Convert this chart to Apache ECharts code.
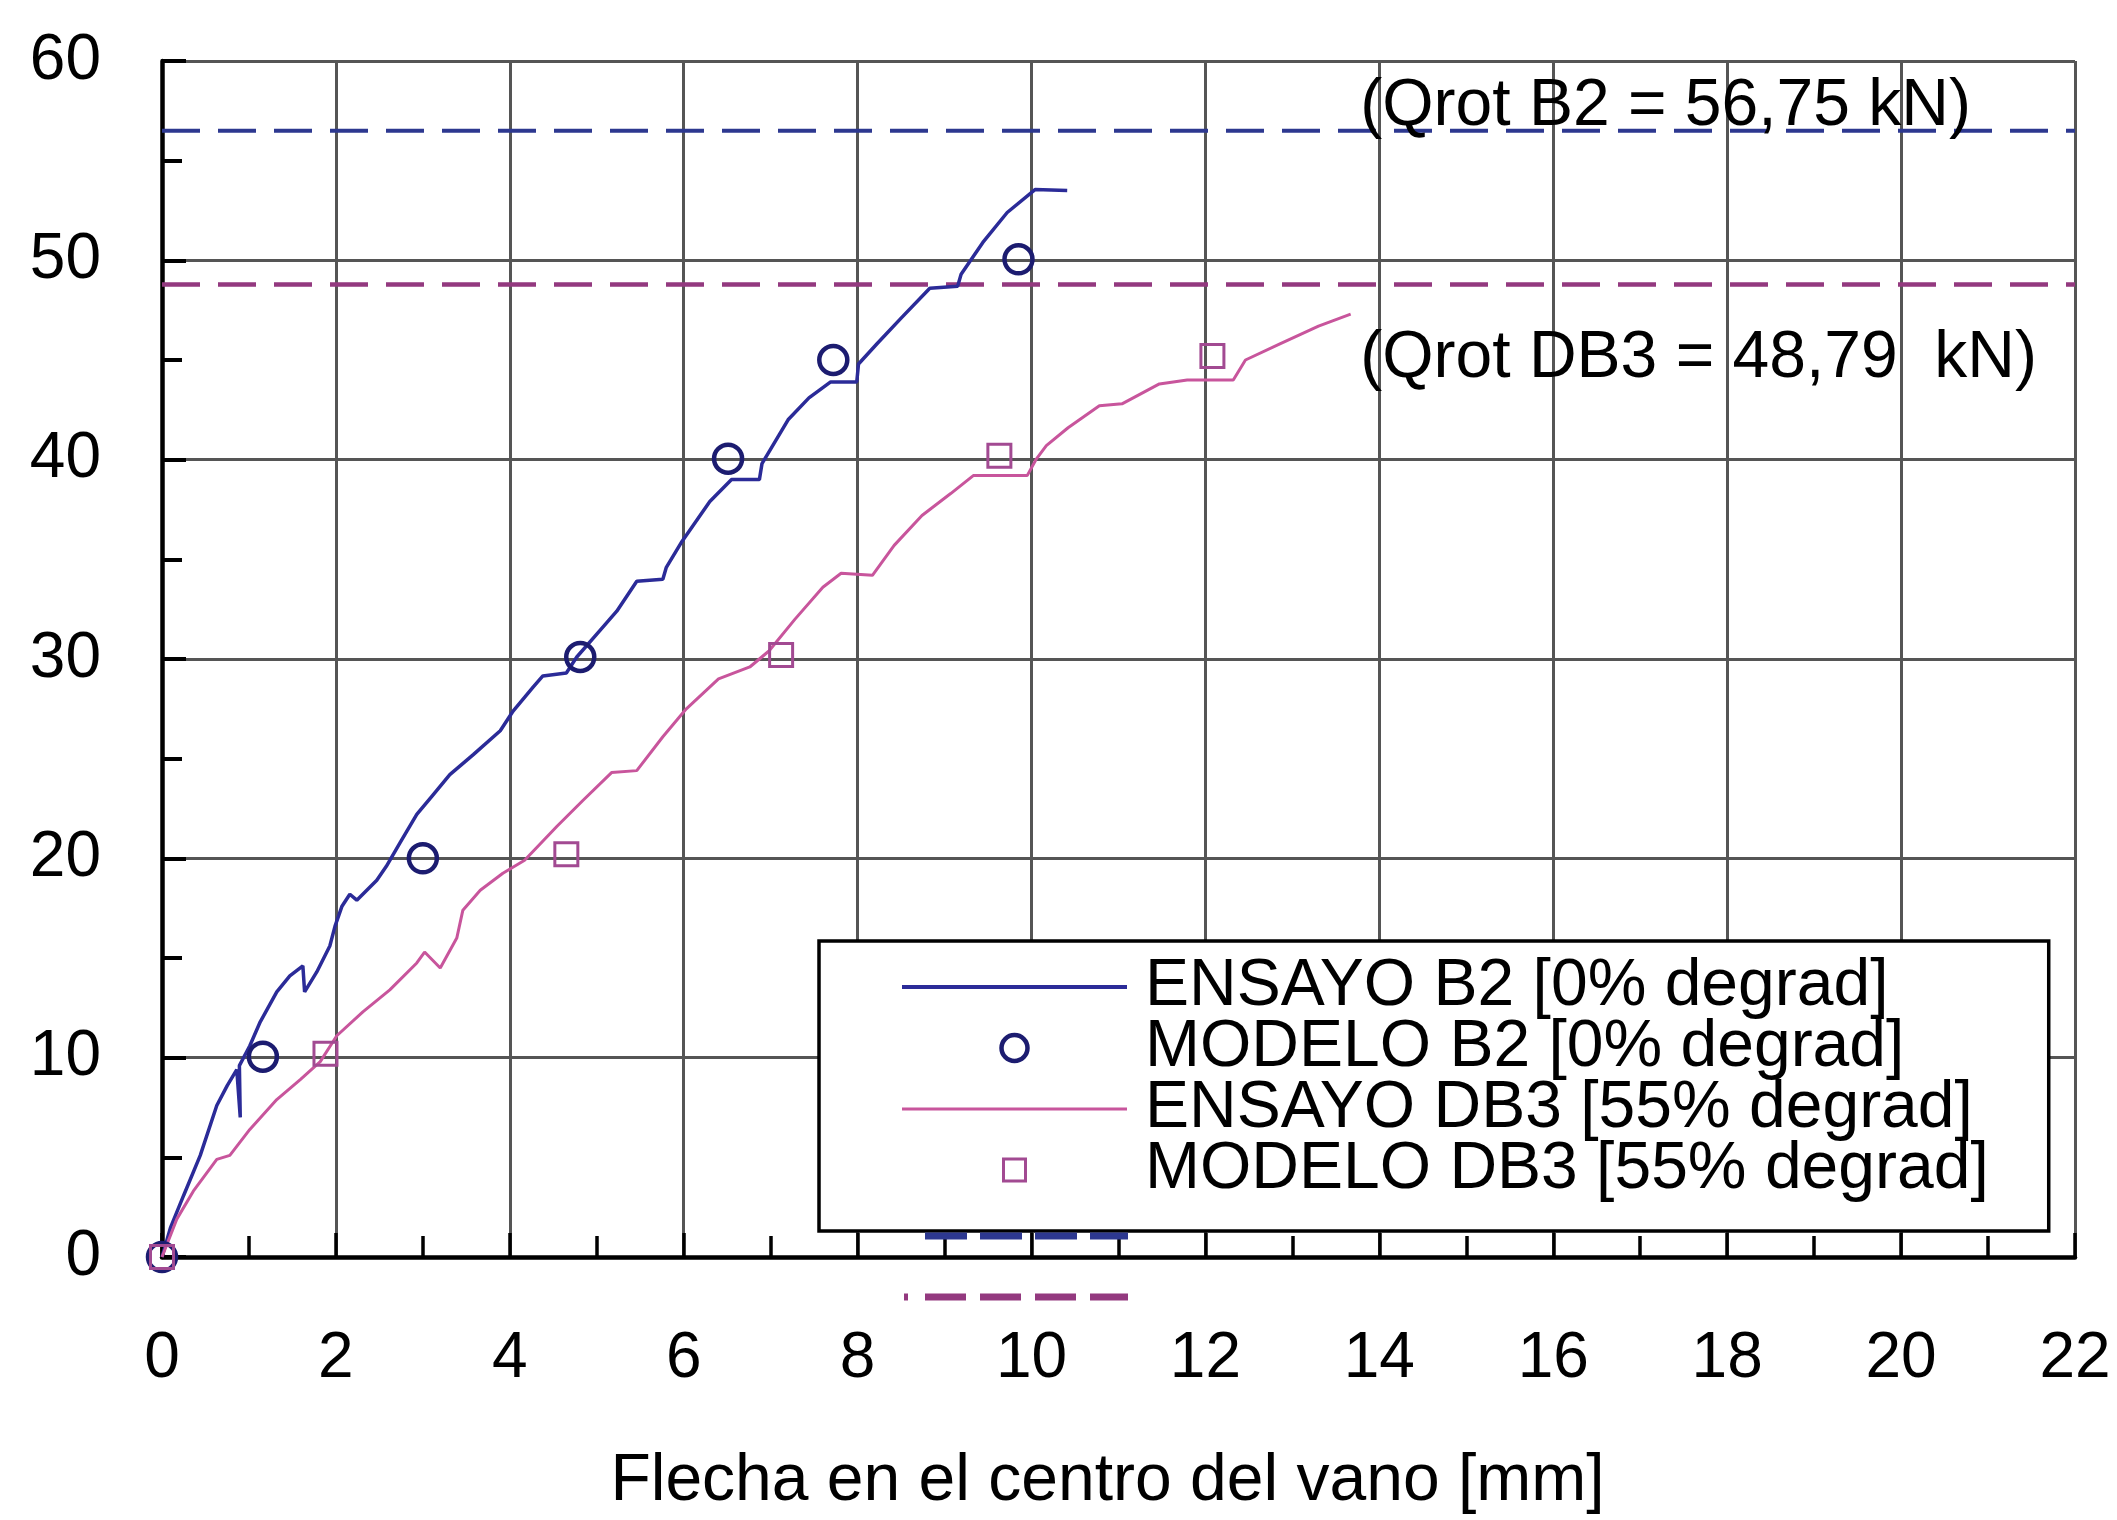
<!DOCTYPE html>
<html>
<head>
<meta charset="utf-8">
<script src="https://cdn.jsdelivr.net/npm/echarts@6/dist/echarts.min.js"></script>
<style>
html,body{margin:0;padding:0;background:#fff;}
#chart{width:2117px;height:1520px;}
</style>
</head>
<body>
<div id="chart"></div>
<script>
// ---- data ----
const seriesNames = ['ENSAYO B2 [0% degrad]', 'MODELO B2 [0% degrad]', 'ENSAYO DB3 [55% degrad]', 'MODELO DB3 [55% degrad]'];

const ensayoB2 = [
  [0,0],[0.1,1.5],[0.25,3.1],[0.44,5.1],[0.63,7.6],[0.75,8.6],[0.86,9.4],[0.9,7.0],[0.89,9.6],
  [1.01,10.6],[1.13,11.8],[1.32,13.3],[1.47,14.1],[1.62,14.6],[1.64,13.3],[1.78,14.3],[1.93,15.6],
  [1.99,16.6],[2.07,17.6],[2.16,18.2],[2.24,17.9],[2.47,18.9],[2.58,19.6],[2.74,20.8],[2.93,22.2],
  [3.12,23.2],[3.31,24.2],[3.58,25.2],[3.89,26.4],[4.04,27.4],[4.27,28.6],[4.38,29.15],[4.65,29.3],
  [4.77,30.1],[5.03,31.4],[5.23,32.4],[5.46,33.9],[5.76,34.0],[5.80,34.6],[5.98,35.9],[6.30,37.9],
  [6.55,39.0],[6.87,39.0],[6.90,39.8],[7.20,42.0],[7.44,43.1],[7.69,43.9],[7.99,43.9],[8.01,44.8],
  [8.22,45.8],[8.50,47.1],[8.83,48.6],[9.15,48.7],[9.19,49.3],[9.44,50.9],[9.72,52.4],[10.04,53.55],
  [10.41,53.5]
];
const modeloB2 = [[0,0],[1.16,10.05],[3.0,20.0],[4.81,30.1],[6.51,40.05],[7.72,45.0],[9.85,50.05]];

const ensayoDB3 = [
  [0,0],[0.17,1.9],[0.36,3.3],[0.63,4.9],[0.78,5.1],[1.01,6.4],[1.32,7.9],[1.59,8.9],[1.82,9.8],
  [2.01,11.1],[2.31,12.3],[2.62,13.4],[2.93,14.75],[3.02,15.3],[3.2,14.5],[3.39,16.0],[3.46,17.4],
  [3.66,18.4],[3.92,19.25],[4.17,19.9],[4.54,21.6],[4.84,22.9],[5.17,24.3],[5.46,24.4],[5.76,26.1],
  [6.03,27.5],[6.4,29.0],[6.76,29.6],[6.98,30.4],[7.28,32.0],[7.6,33.6],[7.81,34.3],[8.17,34.2],
  [8.42,35.7],[8.74,37.2],[9.07,38.3],[9.33,39.2],[9.95,39.2],[10.05,40.0],[10.17,40.7],[10.42,41.6],
  [10.78,42.7],[11.04,42.8],[11.47,43.8],[11.79,44.0],[12.32,44.0],[12.46,45.0],[12.85,45.8],
  [13.30,46.7],[13.67,47.3]
];
const modeloDB3 = [[0,0],[1.88,10.2],[4.65,20.2],[7.12,30.2],[9.63,40.2],[12.08,45.2]];

// dashed reference lines (positions as drawn in the picture)
const qrotB2 = 56.5;
const qrotDB3 = 48.79;
const qrotLabels = ['(Qrot B2 = 56,75 kN)', '(Qrot DB3 = 48,79  kN)'];
const qrotLabelPos = [[13.78, 57.7], [13.78, 45.07]];

const xMin = 0, xMax = 22, xInterval = 2;
const yMin = 0, yMax = 60, yInterval = 10;
const xTitle = 'Flecha en el centro del vano [mm]';

// ---- chart ----
const FONT = '"Liberation Sans", Arial, sans-serif';
const blue = '#2b2b98', blueDash = '#2d3890', circleCol = '#1c1c70';
const pink = '#c8559c', pinkDash = '#93397f', squareCol = '#a24a92';

const chart = echarts.init(document.getElementById('chart'), null, {renderer: 'canvas'});

const option = {
  animation: false,
  backgroundColor: '#fff',
  textStyle: {fontFamily: FONT},
  grid: {left: 162, right: 42, top: 61, bottom: 258, containLabel: false},
  xAxis: {
    type: 'value', min: xMin, max: xMax, interval: xInterval,
    name: xTitle, nameLocation: 'middle', nameGap: 192,
    nameTextStyle: {fontSize: 66, color: '#000', fontFamily: FONT, padding: [0, 22, 0, 0]},
    axisLine: {show: true, lineStyle: {color: '#000', width: 4.5}},
    axisTick: {show: true, inside: true, length: 24, lineStyle: {color: '#000', width: 3.5}},
    minorTick: {show: true, splitNumber: 2, length: 21, lineStyle: {color: '#000', width: 3.5}},
    axisLabel: {fontSize: 64, lineHeight: 64, color: '#000', margin: 70, fontFamily: FONT},
    splitLine: {show: true, lineStyle: {color: '#555', width: 3}}
  },
  yAxis: {
    type: 'value', min: yMin, max: yMax, interval: yInterval,
    axisLine: {show: true, lineStyle: {color: '#000', width: 4.5}},
    axisTick: {show: true, inside: true, length: 24, lineStyle: {color: '#000', width: 4}},
    minorTick: {show: true, splitNumber: 2, length: 20, lineStyle: {color: '#000', width: 4}},
    axisLabel: {fontSize: 64, color: '#000', margin: 61, fontFamily: FONT},
    splitLine: {show: true, lineStyle: {color: '#555', width: 3}}
  },
  legend: {
    show: true, orient: 'vertical', left: 819, top: 941,
    padding: [13, 60, 28, 83],
    itemWidth: 225, itemHeight: 26, itemGap: -5,
    backgroundColor: '#fff', borderColor: '#000', borderWidth: 3.5,
    selectedMode: false, symbolKeepAspect: true,
    textStyle: {fontSize: 66, color: '#000', fontFamily: FONT, padding: [0, 0, 0, 13]},
    data: [
      {name: seriesNames[0], icon: 'path://M0,0L225,0L225,4L0,4Z', itemStyle: {color: blue, borderWidth: 0}},
      {name: seriesNames[1], icon: 'circle', itemStyle: {color: 'rgba(255,255,255,0)', borderColor: circleCol, borderWidth: 4.5}},
      {name: seriesNames[2], icon: 'path://M0,0L225,0L225,3L0,3Z', itemStyle: {color: pink, borderWidth: 0}},
      {name: seriesNames[3], icon: 'path://M0,0M26,26M2,2L24,2L24,24L2,24Z',
        itemStyle: {color: 'rgba(255,255,255,0)', borderColor: squareCol, borderWidth: 3}}
    ]
  },
  graphic: [
    {type: 'line', z: 200, shape: {x1: 925, y1: 1236, x2: 1128, y2: 1236},
      style: {stroke: blueDash, lineWidth: 7, lineDash: [42, 13]}},
    {type: 'line', z: 200, shape: {x1: 925, y1: 1297, x2: 1128, y2: 1297},
      style: {stroke: pinkDash, lineWidth: 7, lineDash: [41, 14]}},
    {type: 'line', z: 200, shape: {x1: 904, y1: 1297, x2: 908, y2: 1297},
      style: {stroke: pinkDash, lineWidth: 7}}
  ],
  series: [
    {
      name: 'QrotB2', type: 'line', silent: true, symbol: 'none', z: 3,
      data: [[xMin, qrotB2], [xMax, qrotB2]],
      lineStyle: {color: blueDash, width: 4, type: [38, 18]}
    },
    {
      name: 'QrotDB3', type: 'line', silent: true, symbol: 'none', z: 3,
      data: [[xMin, qrotDB3], [xMax, qrotDB3]],
      lineStyle: {color: pinkDash, width: 4.5, type: [38, 18]}
    },
    {
      name: 'labels', type: 'scatter', silent: true, symbolSize: 0, z: 4,
      data: qrotLabelPos.map((p, i) => ({value: p, label: {formatter: qrotLabels[i]}})),
      label: {show: true, position: 'right', distance: 0, fontSize: 66, color: '#000', opacity: 1, fontFamily: FONT},
      emphasis: {disabled: true}
    },
    {
      name: seriesNames[0], type: 'line', symbol: 'none', z: 5,
      data: ensayoB2,
      lineStyle: {color: blue, width: 3.5}, itemStyle: {color: blue}
    },
    {
      name: seriesNames[2], type: 'line', symbol: 'none', z: 5,
      data: ensayoDB3,
      lineStyle: {color: pink, width: 3}, itemStyle: {color: pink}
    },
    {
      name: seriesNames[1], type: 'scatter', symbol: 'circle', symbolSize: 28, z: 6,
      data: modeloB2,
      itemStyle: {color: 'rgba(255,255,255,0)', borderColor: circleCol, borderWidth: 4.5, opacity: 1}
    },
    {
      name: seriesNames[3], type: 'scatter', symbol: 'rect', symbolSize: 23, z: 6,
      data: modeloDB3,
      itemStyle: {color: 'rgba(255,255,255,0)', borderColor: squareCol, borderWidth: 3, opacity: 1}
    }
  ]
};
chart.setOption(option);
</script>
</body>
</html>
